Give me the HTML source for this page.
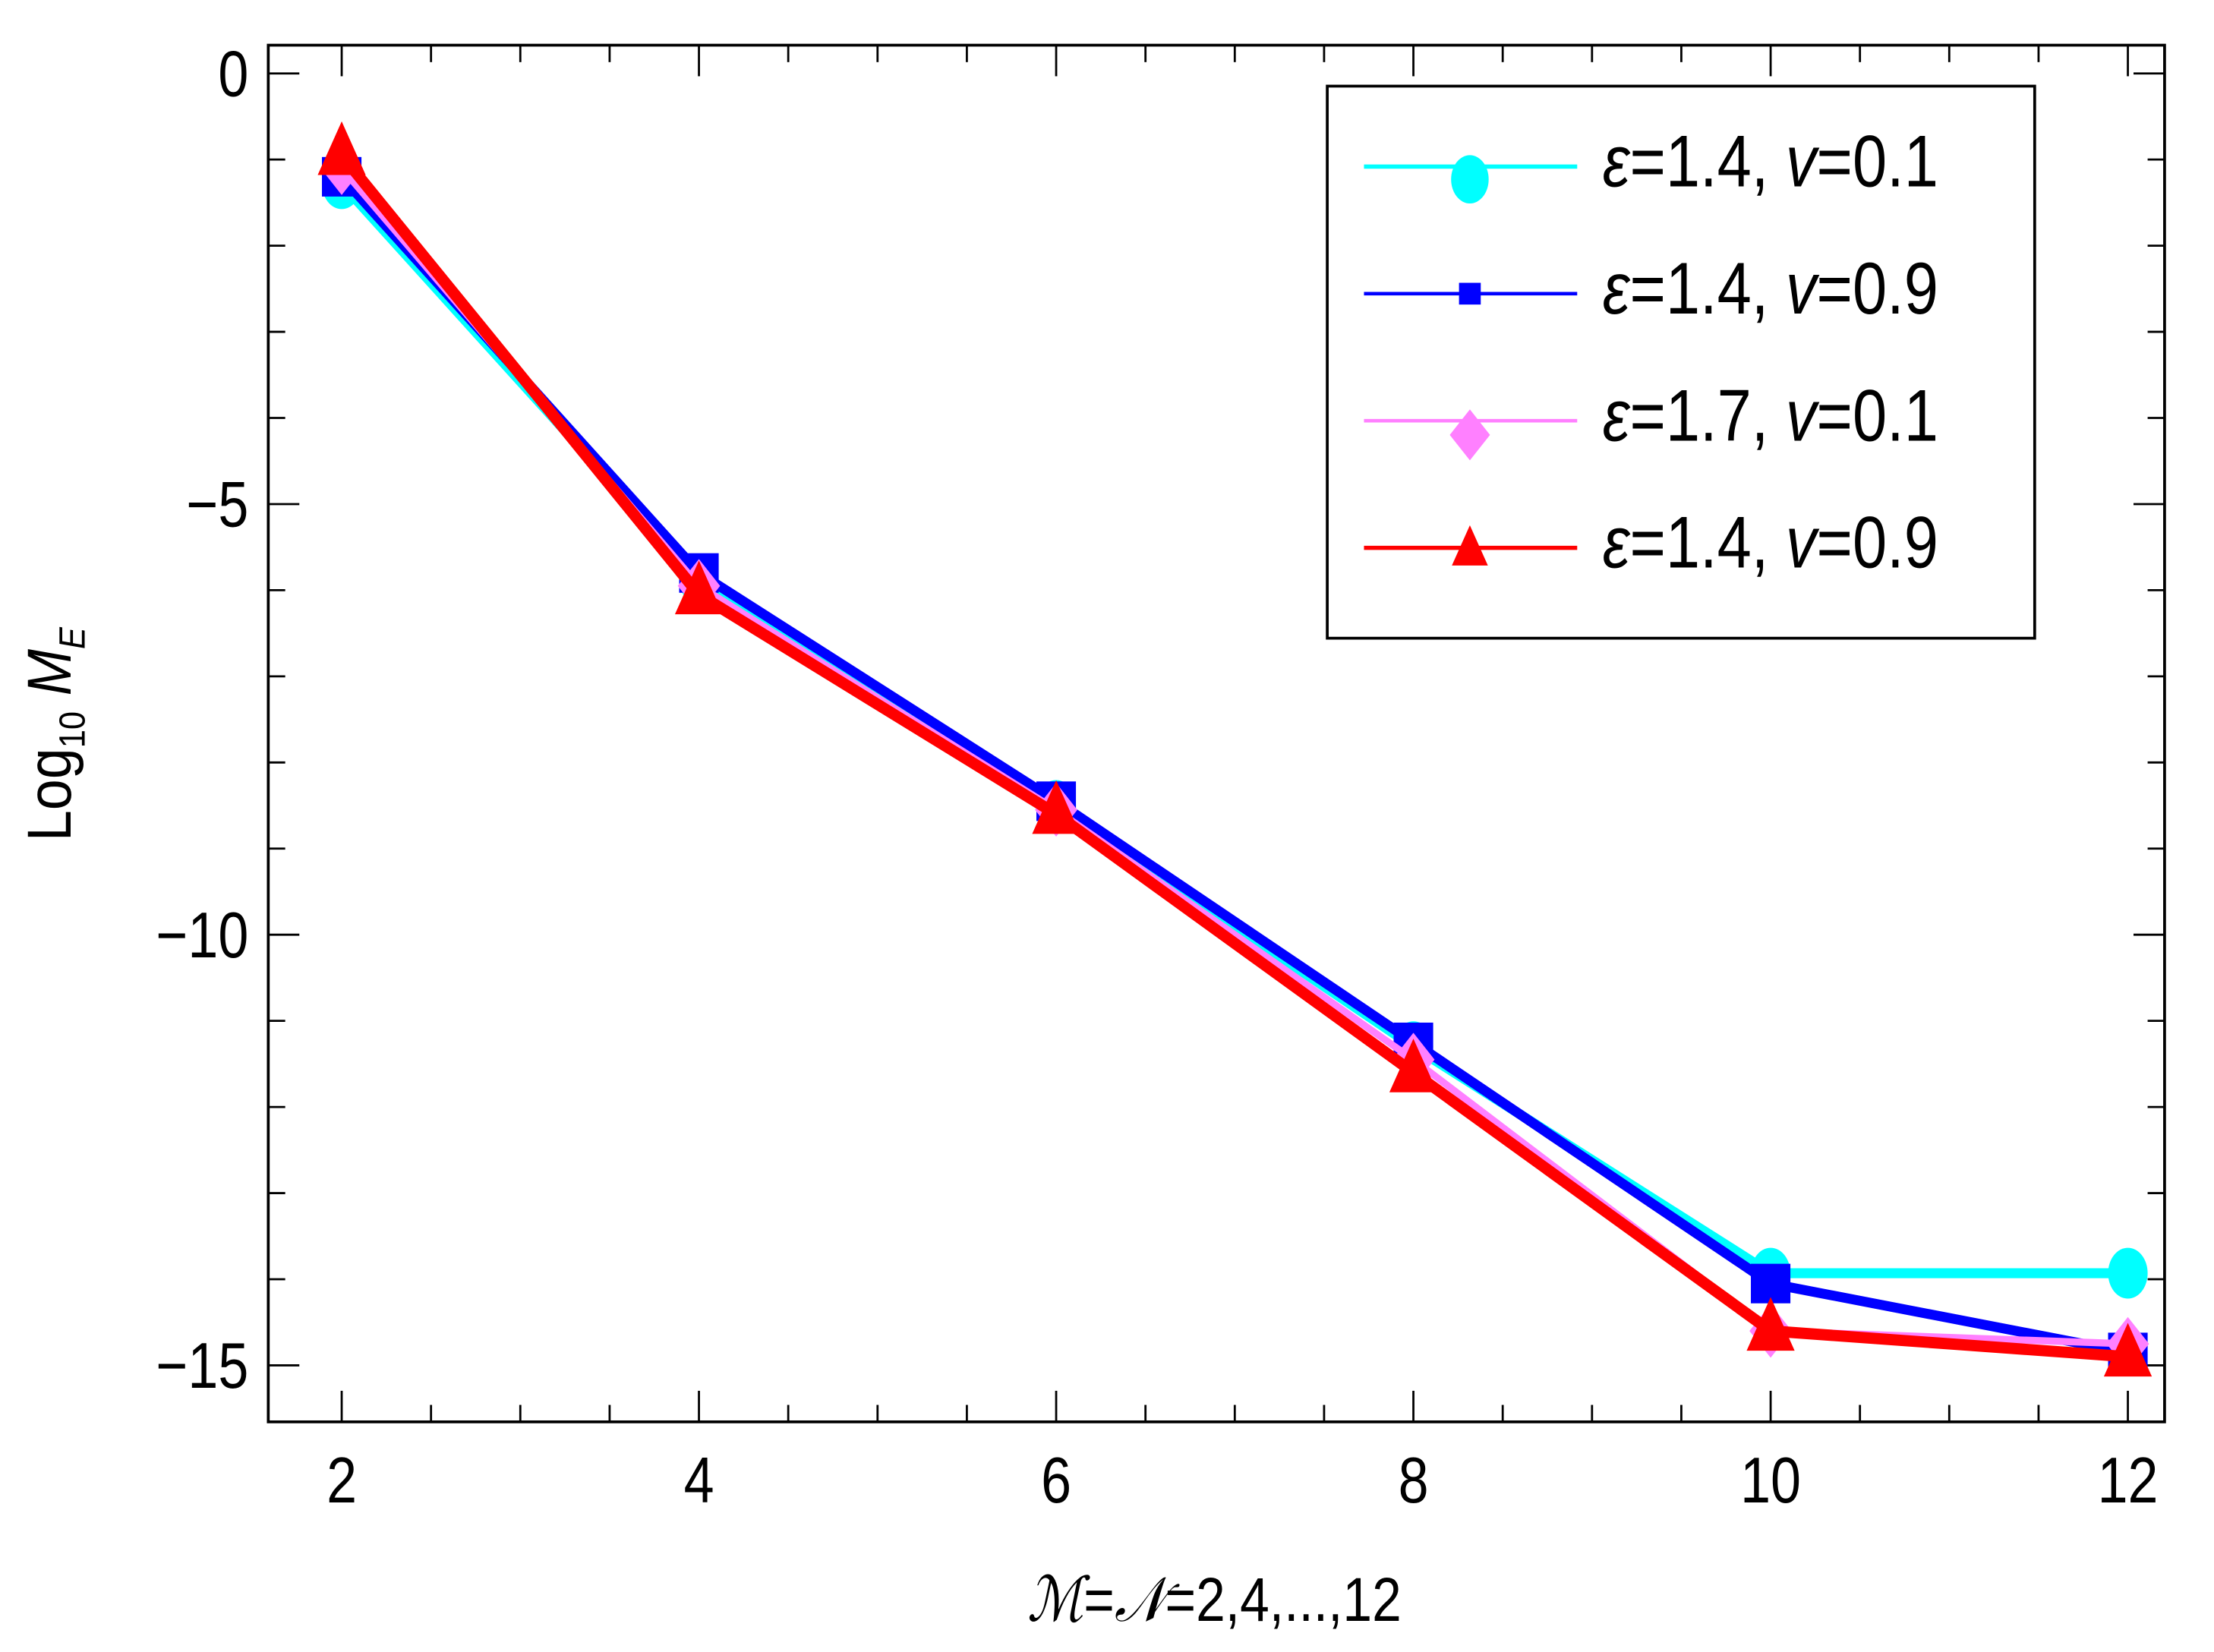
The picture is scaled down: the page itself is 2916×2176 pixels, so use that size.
<!DOCTYPE html>
<html><head><meta charset="utf-8"><style>
html,body{margin:0;padding:0;background:#fff;}
svg{display:block;}
text{font-family:"Liberation Sans",sans-serif;fill:#000;}
</style></head><body>
<svg id="chart" width="2916" height="2176" viewBox="0 0 1568 1170" preserveAspectRatio="none" xmlns="http://www.w3.org/2000/svg">
<rect width="1568" height="1170" fill="#fff"/>
<g id="axes"></g>
<g id="series"></g>
<g id="legend"></g>
<g transform="translate(860,1148) scale(0.85,1)">
<text x="0" y="0" font-size="44" text-anchor="middle"><tspan font-family="Liberation Serif" font-style="italic">ℳ</tspan>=<tspan font-family="Liberation Serif" font-style="italic">𝒩</tspan>=2,4,...,12</text>
</g>
<g transform="translate(50,520) rotate(-90) scale(0.9,1)">
<text x="0" y="0" font-size="44" text-anchor="middle">Log<tspan font-size="26" dy="10">10</tspan><tspan dy="-10"> </tspan><tspan font-style="italic">M</tspan><tspan font-style="italic" font-size="26" dy="10">E</tspan></text>
</g>
</svg>
<script>
const xCats = [2, 4, 6, 8, 10, 12];
const cyanVals = [-1.28, -5.87, -8.5, -11.3, -13.93, -13.93];
const blueVals = [-1.2, -5.8, -8.45, -11.25, -14.05, -14.85];
const pinkVals = [-1.1, -5.95, -8.55, -11.45, -14.6, -14.75];
const redVals = [-0.95, -6.05, -8.6, -11.6, -14.6, -14.9];
const xTicks = [2, 4, 6, 8, 10, 12];
const yTicks = [0, -5, -10, -15];
const yTickLabels = ["0", "\u22125", "\u221210", "\u221215"];
const legendLabels = [["1.4","0.1"],["1.4","0.9"],["1.7","0.1"],["1.4","0.9"]];

const NS = "http://www.w3.org/2000/svg";
const L = 190, R = 1533, T = 32, B = 1007;
function xs(v){ return 242 + (v - 2) * 126.5; }
function ys(v){ return 52 - v * 61; }
function mk(tag, attrs, parent){ const e = document.createElementNS(NS, tag); for (const k in attrs) e.setAttribute(k, attrs[k]); parent.appendChild(e); return e; }
function ctext(parent, x, y, size, anchor){
  const g = mk('g', {transform:`translate(${x},${y}) scale(0.84,1)`}, parent);
  return mk('text', {x:0, y:0, 'font-size':size, 'text-anchor':anchor}, g);
}

const axes = document.getElementById('axes');
const frame = mk('rect', {x:L, y:T, width:R-L, height:B-T, fill:'none', stroke:'#000', 'stroke-width':2}, axes);


for (let v = 1.5; v <= 12.2; v += 0.5) {
  const x = xs(v); if (x < L || x > R) continue;
  const major = Math.abs(v - Math.round(v / 2) * 2) < 1e-6;
  const len = major ? 22 : 12;
  const t1 = mk('line', {x1:x, x2:x, y1:B, y2:B-len, stroke:'#000', 'stroke-width':1.5}, axes);
  
  
  const t2 = mk('line', {x1:x, x2:x, y1:T, y2:T+len, stroke:'#000', 'stroke-width':1.5}, axes);
  
  
}
xTicks.forEach(v => {
  const t = ctext(axes, xs(v), 1064, 46, 'middle');
  t.textContent = v;
  
  
});
for (let v = 0; v >= -15; v -= 1) {
  const y = ys(v);
  const major = v % 5 === 0;
  const len = major ? 22 : 12;
  const t1 = mk('line', {x1:L, x2:L+len, y1:y, y2:y, stroke:'#000', 'stroke-width':1.5}, axes);
  
  
  const t2 = mk('line', {x1:R, x2:R-len, y1:y, y2:y, stroke:'#000', 'stroke-width':1.5}, axes);
  
  
}
yTicks.forEach((v, i) => {
  const t = ctext(axes, 176, ys(v)+16, 46, 'end');
  t.textContent = yTickLabels[i];
  
  
});

function marker(kind, color, x, y, s, parent){
  let e;
  if (kind === 'circle') e = mk('ellipse', {cx:x, cy:y, rx:14*s, ry:18*s, fill:color}, parent);
  else if (kind === 'square') e = mk('rect', {x:x-14*s, y:y-14*s, width:28*s, height:28*s, fill:color}, parent);
  else if (kind === 'diamond') e = mk('polygon', {points:`${x},${y-19*s} ${x+15*s},${y} ${x},${y+19*s} ${x-15*s},${y}`, fill:color}, parent);
  else e = mk('polygon', {points:`${x},${y-24*s} ${x+17*s},${y+14*s} ${x-17*s},${y+14*s}`, fill:color}, parent);
  return e;
}
const series = [
  {name:'cyan', vals:cyanVals, color:'#00ffff', w:7, kind:'circle', lw:3, ls:0.95},
  {name:'blue', vals:blueVals, color:'#0000ff', w:7, kind:'square', lw:2.5, ls:0.55},
  {name:'pink', vals:pinkVals, color:'#ff80ff', w:5, kind:'diamond', lw:2.5, ls:0.95},
  {name:'red', vals:redVals, color:'#ff0000', w:8, kind:'triangle', lw:3, ls:0.75}
];
const sg = document.getElementById('series');
series.forEach(s => {
  const pts = xCats.map((c, i) => xs(c) + ',' + ys(s.vals[i])).join(' ');
  const pl = mk('polyline', {points:pts, fill:'none', stroke:s.color, 'stroke-width':s.w, 'stroke-linejoin':'miter'}, sg);
  
  
  xCats.forEach((c, i) => {
    const m = marker(s.kind, s.color, xs(c), ys(s.vals[i]), 1, sg);
    
    
  });
});

const lg = document.getElementById('legend');
const box = mk('rect', {x:940, y:61, width:501, height:391, fill:'#fff', stroke:'#000', 'stroke-width':2}, lg);


const rowsY = [118, 208, 298, 388];
series.forEach((s, i) => {
  const y = rowsY[i];
  const ln = mk('line', {x1:966, x2:1117, y1:y, y2:y, stroke:s.color, 'stroke-width':s.lw}, lg);
  
  
  const m = marker(s.kind, s.color, 1041, y + (s.kind==='circle'?9:(s.kind==='triangle'?2:(s.kind==='diamond'?10:0))), s.ls, lg);
  
  
  const t = ctext(lg, 1135, y+14, 52, 'start');
  t.innerHTML = '<tspan font-style="italic">ε</tspan>=' + legendLabels[i][0] + ', <tspan font-style="italic">v</tspan>=' + legendLabels[i][1];
  
  
});
</script>
</body></html>
